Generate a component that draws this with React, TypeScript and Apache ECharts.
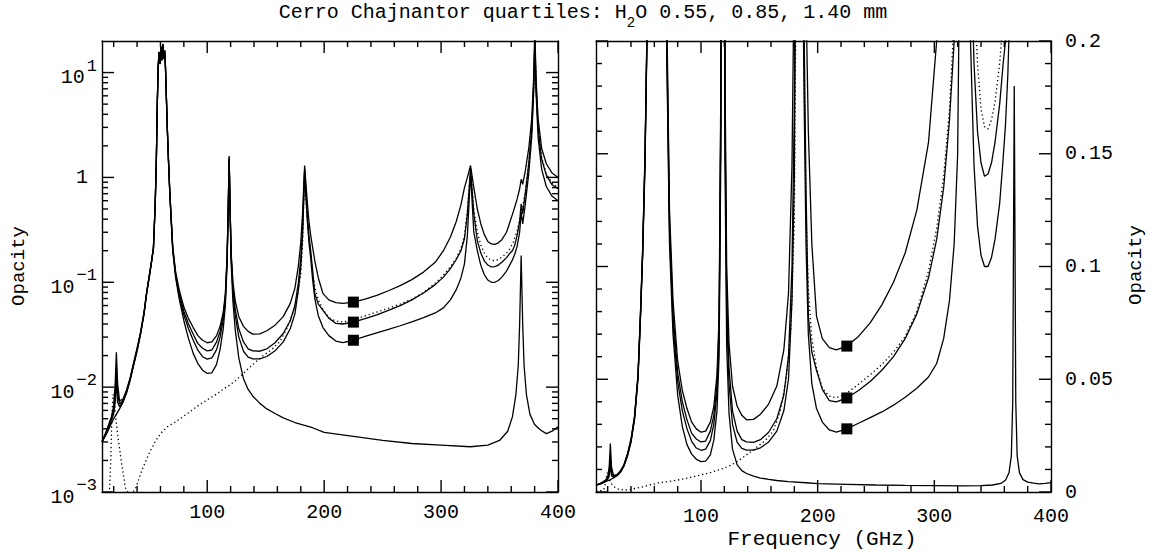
import React, { useEffect, useRef } from "react";
import * as echarts from "echarts";

const FONT = "'Liberation Mono', 'Courier New', monospace";

// ---- tick values ----
const xMajorTicks = [100, 200, 300, 400];
const xMinorTicks = [20, 40, 60, 80, 120, 140, 160, 180, 220, 240, 260, 280, 320, 340, 360, 380];
const logMajorTicks = [0.001, 0.01, 0.1, 1, 10];
const logMinorTicks = [
  0.002, 0.003, 0.004, 0.005, 0.006, 0.007, 0.008, 0.009,
  0.02, 0.03, 0.04, 0.05, 0.06, 0.07, 0.08, 0.09,
  0.2, 0.3, 0.4, 0.5, 0.6, 0.7, 0.8, 0.9,
  2, 3, 4, 5, 6, 7, 8, 9,
];
const linMajorTicks = [0, 0.05, 0.1, 0.15, 0.2];
const linMinorTicks = [
  0.01, 0.02, 0.03, 0.04, 0.06, 0.07, 0.08, 0.09,
  0.11, 0.12, 0.13, 0.14, 0.16, 0.17, 0.18, 0.19,
];

// ---- curves: [frequency GHz, opacity] ----
const dryAir: [number, number][] = [
  [10,0.0030],[14,0.0036],[18,0.0045],[20,0.0050],[22.3,0.0055],[25,0.0062],[28,0.0072],[31,0.0088],[34,0.0115],[37,0.016],
  [40,0.022],[43,0.032],[46,0.05],[48,0.075],[50,0.105],[52,0.145],[54,0.21],[55.5,0.55],[56.5,1.5],[57.3,5],[58,11],
  [58.8,15.5],[59.6,12],[60.4,17.5],[61.2,13],[62,18.5],[62.8,13.5],[63.6,16],[64.3,11],[65,6],[66,2.6],[67,1.3],[68,0.7],
  [69,0.42],[70.5,0.2],[73,0.11],[76,0.07],[80,0.043],[84,0.029],[88,0.021],[92,0.0168],[96,0.0145],[100,0.0135],[104,0.0137],
  [108,0.0165],[111,0.023],[113.7,0.036],[115.5,0.06],[117,0.15],[118,0.5],[118.75,1.5],[119.5,0.5],[120.5,0.15],[122,0.065],
  [124,0.035],[127,0.019],[131,0.012],[135,0.0095],[139,0.0082],[145,0.007],[151,0.0062],[158,0.0056],[165,0.0051],[175,0.0046],
  [190,0.0041],[200,0.0037],[225,0.0034],[250,0.0031],[275,0.0029],[300,0.0028],[325,0.0027],[340,0.0028],[350,0.0031],
  [357,0.0038],[361,0.0052],[364,0.0085],[366,0.016],[367.2,0.04],[368.5,0.18],[369.8,0.04],[371,0.016],[373,0.0085],
  [376,0.0055],[380,0.0044],[385,0.0039],[390,0.0036],[395,0.0038],[400,0.0042],
];

const pwv140: [number, number][] = [
  [10,0.0030],[14,0.0039],[18,0.0052],[20,0.0066],[21.3,0.011],[22.3,0.0215],[23.3,0.011],[25,0.0074],[28,0.0077],[31,0.0094],
  [34,0.0122],[37,0.017],[40,0.0235],[43,0.0335],[46,0.052],[48,0.078],[50,0.108],[52,0.15],[54,0.215],[55.5,0.56],[56.5,1.52],
  [57.3,5.1],[58,11.2],[58.8,15.8],[59.6,12.3],[60.4,17.8],[61.2,13.3],[62,18.8],[62.8,13.8],[63.6,16.3],[64.3,11.3],[65,6.2],
  [66,2.7],[67,1.35],[68,0.73],[69,0.45],[70.5,0.22],[73,0.125],[76,0.085],[80,0.058],[84,0.045],[88,0.037],[92,0.031],
  [96,0.028],[100,0.0265],[104,0.027],[108,0.031],[111,0.038],[113.7,0.052],[115.5,0.078],[117,0.18],[118,0.55],[118.75,1.6],
  [119.5,0.55],[120.5,0.19],[122,0.1],[124,0.066],[127,0.047],[131,0.038],[135,0.034],[139,0.032],[145,0.0322],[151,0.0345],
  [158,0.039],[165,0.047],[171,0.063],[175,0.088],[178,0.145],[180,0.24],[181.5,0.45],[183.3,1.3],[185.5,0.6],[187,0.38],
  [188.5,0.28],[190,0.22],[192,0.16],[195,0.11],[199,0.078],[204,0.068],[210,0.064],[216,0.063],[225,0.0647],[235,0.069],
  [245,0.075],[255,0.083],[265,0.093],[275,0.106],[285,0.125],[295,0.155],[302,0.2],[308,0.27],[313,0.38],[317,0.55],[320,0.8],
  [322.5,1.0],[325.2,1.3],[328,0.8],[331,0.5],[334,0.36],[337,0.285],[340,0.245],[343,0.232],[346,0.23],[349,0.238],[352,0.255],
  [356,0.3],[359,0.38],[362,0.48],[365,0.62],[367.2,0.78],[368.5,0.96],[369.8,0.86],[372,1.15],[375,1.9],[377.5,3.6],[379.2,9],
  [380.2,25],[381.2,9],[383,3.6],[386,1.9],[390,1.35],[395,1.1],[400,1.0],
];

const pwv085: [number, number][] = [
  [10,0.0030],[14,0.0038],[18,0.0050],[20,0.0060],[21.3,0.0088],[22.3,0.016],[23.3,0.0088],[25,0.0069],[28,0.0075],[31,0.0091],
  [34,0.012],[37,0.0166],[40,0.023],[43,0.033],[46,0.0515],[48,0.077],[50,0.107],[52,0.148],[54,0.213],[55.5,0.555],[56.5,1.51],
  [57.3,5.05],[58,11.1],[58.8,15.7],[59.6,12.2],[60.4,17.7],[61.2,13.2],[62,18.7],[62.8,13.7],[63.6,16.2],[64.3,11.2],[65,6.1],
  [66,2.65],[67,1.33],[68,0.72],[69,0.44],[70.5,0.21],[73,0.12],[76,0.079],[80,0.053],[84,0.04],[88,0.032],[92,0.026],
  [96,0.0235],[100,0.0222],[104,0.0226],[108,0.027],[111,0.034],[113.7,0.048],[115.5,0.073],[117,0.17],[118,0.53],[118.75,1.55],
  [119.5,0.53],[120.5,0.175],[122,0.088],[124,0.055],[127,0.036],[131,0.027],[135,0.0232],[139,0.0222],[145,0.022],[151,0.0232],
  [158,0.0265],[165,0.0325],[171,0.043],[175,0.06],[178,0.1],[180,0.17],[181.5,0.32],[183.3,1.2],[185.5,0.45],[187,0.28],
  [188.5,0.2],[190,0.135],[192,0.078],[195,0.062],[199,0.054],[204,0.0455],[210,0.0405],[216,0.040],[225,0.0417],[235,0.045],
  [245,0.049],[255,0.054],[265,0.06],[275,0.068],[285,0.079],[295,0.095],[302,0.112],[308,0.135],[313,0.165],[317,0.2],[320,0.26],
  [322.5,0.45],[325.2,1.2],[328,0.45],[331,0.25],[334,0.19],[337,0.16],[340,0.146],[343,0.14],[346,0.141],[349,0.146],[352,0.155],
  [356,0.172],[359,0.19],[361,0.2],[363,0.225],[365,0.28],[367.2,0.38],[368.5,0.56],[369.8,0.45],[372,0.7],[375,1.35],[377.5,2.8],
  [379.2,7.5],[380.2,22],[381.2,7.5],[383,2.9],[386,1.5],[390,1.05],[395,0.85],[400,0.78],
];

const pwv055: [number, number][] = [
  [10,0.0030],[14,0.0037],[18,0.0048],[20,0.0056],[21.3,0.0072],[22.3,0.0118],[23.3,0.0072],[25,0.0065],[28,0.0073],[31,0.0089],
  [34,0.0118],[37,0.0163],[40,0.0226],[43,0.0326],[46,0.051],[48,0.0765],[50,0.106],[52,0.147],[54,0.212],[55.5,0.553],[56.5,1.505],
  [57.3,5.02],[58,11.05],[58.8,15.6],[59.6,12.1],[60.4,17.6],[61.2,13.1],[62,18.6],[62.8,13.6],[63.6,16.1],[64.3,11.1],[65,6.05],
  [66,2.62],[67,1.32],[68,0.715],[69,0.435],[70.5,0.205],[73,0.116],[76,0.075],[80,0.049],[84,0.036],[88,0.028],[92,0.0225],
  [96,0.0195],[100,0.0185],[104,0.019],[108,0.0228],[111,0.03],[113.7,0.044],[115.5,0.068],[117,0.165],[118,0.52],[118.75,1.5],
  [119.5,0.52],[120.5,0.168],[122,0.08],[124,0.048],[127,0.03],[131,0.022],[135,0.0193],[139,0.0186],[145,0.0186],[151,0.0196],
  [158,0.0222],[165,0.027],[171,0.036],[175,0.05],[178,0.085],[180,0.14],[181.5,0.27],[183.3,1.1],[185.5,0.4],[187,0.24],
  [188.5,0.17],[190,0.11],[192,0.07],[195,0.048],[199,0.037],[204,0.031],[210,0.0275],[216,0.0266],[225,0.028],[235,0.0305],
  [245,0.033],[255,0.0355],[265,0.0385],[275,0.042],[285,0.046],[295,0.051],[302,0.057],[308,0.068],[313,0.085],[317,0.11],
  [320,0.15],[322.5,0.28],[325.2,1.1],[328,0.3],[331,0.2],[334,0.145],[337,0.118],[340,0.105],[343,0.1],[346,0.1],[349,0.104],
  [352,0.112],[356,0.128],[359,0.148],[361,0.163],[363,0.185],[365,0.22],[367.2,0.3],[368.5,0.47],[369.8,0.36],[372,0.55],
  [375,1.1],[377.5,2.4],[379.2,6.5],[380.2,19],[381.2,6.5],[383,2.4],[386,1.2],[390,0.82],[395,0.66],[400,0.6],
];

const dottedCurve: [number, number][] = [
  [10,0.0006],[14,0.00065],[16,0.0008],[17.5,0.002],[18.5,0.0055],[19.5,0.0085],[20.5,0.0078],[21.5,0.0055],[23,0.0038],
  [25,0.0026],[27,0.0018],[30,0.0011],[34,0.0009],[39,0.0011],[44,0.0016],[50,0.0023],[56,0.0031],[61,0.0037],[66,0.0042],
  [72,0.0046],[78,0.0051],[84,0.0057],[90,0.0064],[96,0.0071],[102,0.0078],[108,0.0086],[114,0.0096],[118.75,0.0104],
  [124,0.0115],[130,0.0132],[136,0.0153],[142,0.0176],[148,0.02],[155,0.0228],[162,0.027],[168,0.036],[173,0.05],[177,0.072],
  [180,0.12],[181.5,0.23],[183.3,1.15],[185.5,0.42],[187,0.26],[188.5,0.18],[190,0.125],[192,0.09],[195,0.068],[199,0.055],
  [204,0.046],[210,0.0425],[216,0.0418],[225,0.0438],[235,0.0478],[245,0.052],[255,0.0565],[265,0.062],[275,0.069],[285,0.08],
  [295,0.098],[302,0.117],[308,0.14],[313,0.17],[317,0.21],[320,0.28],[322.5,0.48],[325.2,1.2],[328,0.5],[331,0.3],[334,0.225],
  [337,0.19],[340,0.17],[343,0.162],[346,0.161],[349,0.165],[352,0.173],[356,0.19],[359,0.21],[362,0.245],[365,0.31],
  [368.5,0.45],[372,0.72],[375,1.4],[377.5,2.9],[379.2,7.6],[380.2,22],[381.2,7.6],[383,3.0],[386,1.55],[390,1.08],[395,0.88],
  [400,0.8],
];

const markers225: [number, number][] = [
  [225, 0.0647],
  [225, 0.0417],
  [225, 0.028],
];

const titleText = "{t|Cerro Chajnantor quartiles: H}{sub|2}{t|O 0.55, 0.85, 1.40 mm}";

const axisLineStyle = { color: "#000", width: 1.4 };

function xAxisDef(gridIndex: number, position: string, labels: boolean, margin: number) {
  return {
    type: "value",
    gridIndex,
    position,
    min: 10,
    max: 400,
    axisLine: { show: true, onZero: false, lineStyle: axisLineStyle },
    axisTick: { show: false },
    axisLabel: labels
      ? { show: true, customValues: xMajorTicks, margin, color: "#000", fontFamily: FONT, fontSize: 20 }
      : { show: false },
    splitLine: { show: false },
  };
}

const logRich = {
  b: { fontFamily: FONT, fontSize: 20, lineHeight: 30, verticalAlign: "bottom", color: "#000" },
  s: { fontFamily: FONT, fontSize: 17, lineHeight: 17, verticalAlign: "top", padding: [0, 0, 0, 2], color: "#000" },
  o: { fontFamily: FONT, fontSize: 20, lineHeight: 30, padding: [0, 9, 0, 0], color: "#000" },
};

function logLabel(v: number) {
  const e = Math.round(Math.log10(v));
  if (e === 0) return "{o|1}";
  return "{b|10}{s|" + (e < 0 ? "\u2212" + -e : String(e)) + "}";
}

function logAxisDef(position: string, labels: boolean) {
  return {
    type: "log",
    logBase: 10,
    gridIndex: 0,
    position,
    min: 0.001,
    max: 20,
    axisLine: { show: true, onZero: false, lineStyle: axisLineStyle },
    axisTick: { show: false },
    axisLabel: labels
      ? { show: true, customValues: logMajorTicks, margin: 5, formatter: logLabel, rich: logRich }
      : { show: false },
    splitLine: { show: false },
  };
}

function linAxisDef(position: string, labels: boolean) {
  return {
    type: "value",
    gridIndex: 1,
    position,
    min: 0,
    max: 0.2,
    interval: 0.05,
    axisLine: { show: true, onZero: false, lineStyle: axisLineStyle },
    axisTick: { show: false },
    minorTick: { show: false },
    axisLabel: labels
      ? {
          show: true,
          margin: 14,
          color: "#000",
          fontFamily: FONT,
          fontSize: 20,
          formatter: (v: number) => String(parseFloat(v.toFixed(3))),
        }
      : { show: false },
    splitLine: { show: false },
  };
}

function curve(name: string, data: [number, number][], xi: number, yi: number, dotted: boolean) {
  return {
    type: "line",
    name,
    data,
    xAxisIndex: xi,
    yAxisIndex: yi,
    symbol: "none",
    showSymbol: false,
    clip: true,
    silent: true,
    z: 3,
    lineStyle: { color: "#000", width: 1.3, type: dotted ? [1.3, 2.8] : "solid" },
  };
}

function markerSeries(xi: number, yi: number) {
  return {
    type: "scatter",
    data: markers225,
    xAxisIndex: xi,
    yAxisIndex: yi,
    symbol: "rect",
    symbolSize: 11,
    itemStyle: { color: "#000", opacity: 1 },
    silent: true,
    z: 5,
  };
}

function textGraphics() {
  const plain = (text: string, x: number, y: number, size: number, rotation: number) => ({
    type: "text",
    x,
    y,
    rotation,
    silent: true,
    style: { text, fontFamily: FONT, fontSize: size, fill: "#000", align: "center", verticalAlign: "middle" },
  });
  return [
    {
      type: "text",
      x: 583,
      y: 16,
      silent: true,
      style: {
        text: titleText,
        align: "center",
        verticalAlign: "middle",
        fill: "#000",
        rich: {
          t: { fontFamily: FONT, fontSize: 20, lineHeight: 28, verticalAlign: "top", fill: "#000" },
          sub: { fontFamily: FONT, fontSize: 14, lineHeight: 14, verticalAlign: "bottom", fill: "#000" },
        },
      },
    },
    plain("Frequency (GHz)", 822, 539, 21, 0),
    plain("Opacity", 19, 266, 19, Math.PI / 2),
    plain("Opacity", 1136, 265, 19, Math.PI / 2),
  ];
}

// tick marks on all four sides of a panel, placed with the panel's own axis scales
function tickGraphics(chart: any, xi: number, yi: number, yMin: number, yMax: number, yMajor: number[], yMinor: number[]) {
  const finder = { xAxisIndex: xi, yAxisIndex: yi };
  const bottom = chart.convertToPixel(finder, [10, yMin])[1];
  const top = chart.convertToPixel(finder, [10, yMax])[1];
  const left = chart.convertToPixel(finder, [10, yMin])[0];
  const right = chart.convertToPixel(finder, [400, yMin])[0];
  const out: any[] = [];
  const seg = (x1: number, y1: number, x2: number, y2: number) => ({
    type: "line",
    silent: true,
    z: 20,
    shape: { x1, y1, x2, y2 },
    style: { stroke: "#000", lineWidth: 1.4 },
  });
  const addX = (vals: number[], len: number) => {
    vals.forEach((v) => {
      const x = chart.convertToPixel(finder, [v, yMin])[0];
      out.push(seg(x, bottom, x, bottom - len));
      out.push(seg(x, top, x, top + len));
    });
  };
  const addY = (vals: number[], len: number) => {
    vals.forEach((v) => {
      const y = chart.convertToPixel(finder, [10, v])[1];
      out.push(seg(left, y, left + len, y));
      out.push(seg(right, y, right - len, y));
    });
  };
  addX(xMajorTicks, 12);
  addX(xMinorTicks, 6);
  addY(yMajor, 12);
  addY(yMinor, 6);
  return out;
}

export default function App() {
  const ref = useRef<HTMLDivElement>(null);

  useEffect(() => {
    if (!ref.current) return;
    const chart = echarts.init(ref.current, undefined, { renderer: "svg" });
    const option: any = {
      animation: false,
      backgroundColor: "#fff",
      grid: [
        { left: 102, top: 41, width: 456, height: 451, containLabel: false },
        { left: 596, top: 41, width: 455, height: 451, containLabel: false },
      ],
      xAxis: [
        xAxisDef(0, "bottom", true, 10),
        xAxisDef(0, "top", false, 0),
        xAxisDef(1, "bottom", true, 14),
        xAxisDef(1, "top", false, 0),
      ],
      yAxis: [
        logAxisDef("left", true),
        logAxisDef("right", false),
        linAxisDef("right", true),
        linAxisDef("left", false),
      ],
      series: [
        curve("dry", dryAir, 0, 0, false),
        curve("0.55 mm", pwv055, 0, 0, false),
        curve("0.85 mm", pwv085, 0, 0, false),
        curve("1.40 mm", pwv140, 0, 0, false),
        curve("dotted", dottedCurve, 0, 0, true),
        markerSeries(0, 0),
        curve("dry R", dryAir, 2, 2, false),
        curve("0.55 mm R", pwv055, 2, 2, false),
        curve("0.85 mm R", pwv085, 2, 2, false),
        curve("1.40 mm R", pwv140, 2, 2, false),
        curve("dotted R", dottedCurve, 2, 2, true),
        markerSeries(2, 2),
      ],
    };
    chart.setOption(option);
    const ticks = [
      ...tickGraphics(chart, 0, 0, 0.001, 20, logMajorTicks, logMinorTicks),
      ...tickGraphics(chart, 2, 2, 0, 0.2, linMajorTicks, linMinorTicks),
    ];
    chart.setOption({ graphic: [...textGraphics(), ...ticks] });
    return () => {
      chart.dispose();
    };
  }, []);

  return (
    <div
      ref={ref}
      style={{ position: "fixed", left: 0, top: 0, width: 1150, height: 552, background: "#fff" }}
    />
  );
}
